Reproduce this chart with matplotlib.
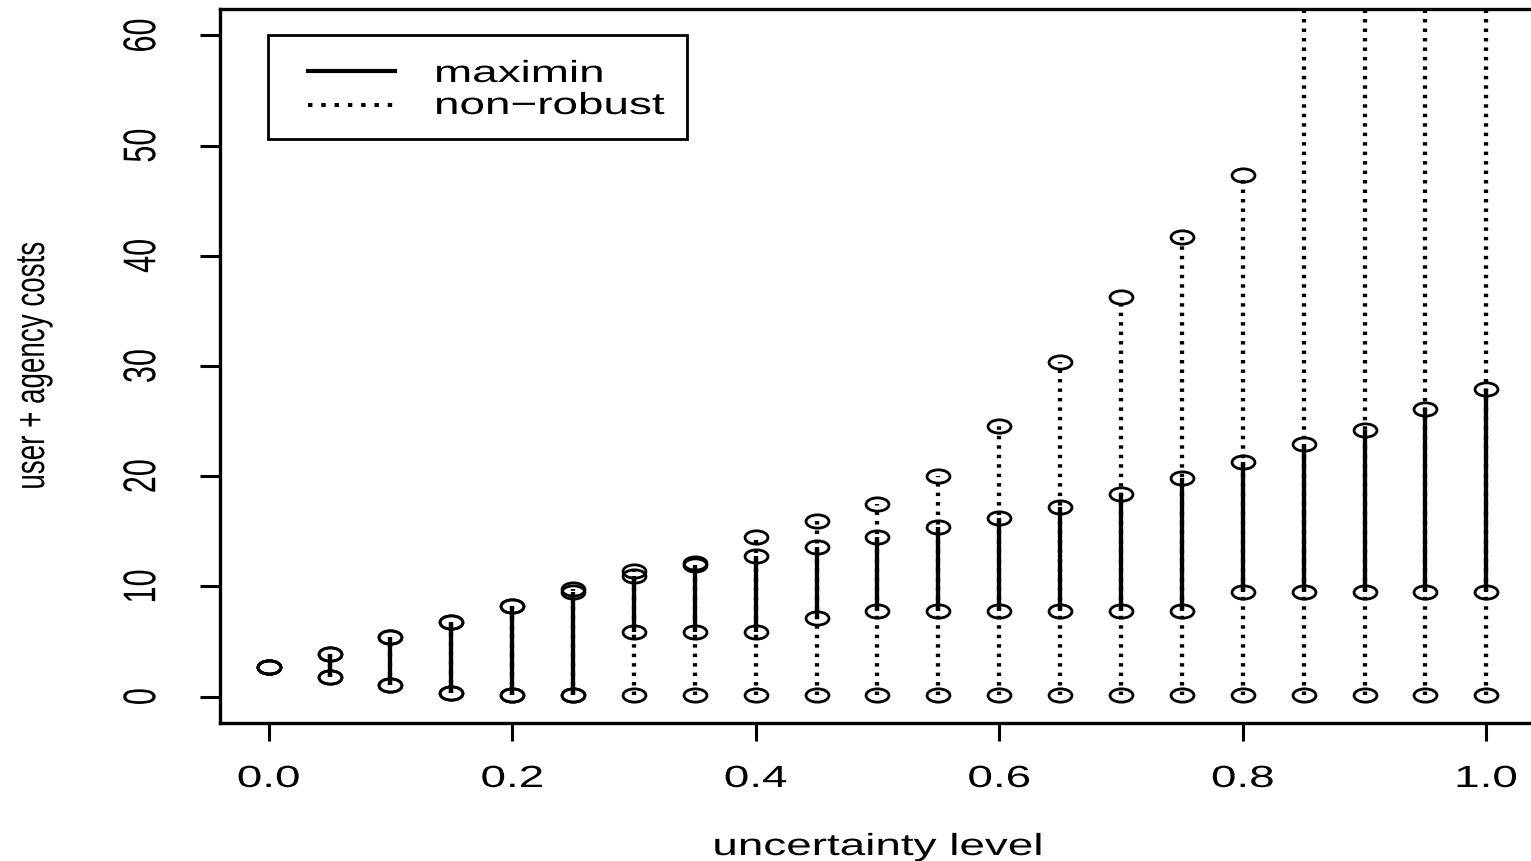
import matplotlib
matplotlib.use("Agg")
import matplotlib.pyplot as plt
from matplotlib.path import Path
from matplotlib.patches import Rectangle
from matplotlib.lines import Line2D
from matplotlib.patheffects import AbstractPathEffect
from matplotlib.transforms import Affine2D

# cost ranges per uncertainty level
uncertainty = [0.0, 0.05, 0.10, 0.15, 0.20, 0.25, 0.30, 0.35, 0.40, 0.45, 0.50,
               0.55, 0.60, 0.65, 0.70, 0.75, 0.80, 0.85, 0.90, 0.95, 1.00]
maximin_low = [2.64, 1.73, 1.03, 0.36, 0.15, 0.15, 5.85, 5.82, 5.82, 7.12, 7.78,
               7.78, 7.75, 7.77, 7.77, 7.75, 9.49, 9.49, 9.49, 9.49, 9.49]
maximin_high = [2.64, 3.85, 5.36, 6.78, 8.24, 9.48, 10.96, 11.95, 12.73, 13.6, 14.45,
                15.36, 16.18, 17.2, 18.35, 19.85, 21.33, 22.9, 24.2, 26.1, 27.87]
nonrobust_low = [2.64, 1.73, 1.03, 0.36, 0.15, 0.15, 0.17, 0.17, 0.17, 0.17, 0.17,
                 0.17, 0.17, 0.17, 0.17, 0.17, 0.17, 0.17, 0.17, 0.17, 0.17]
nonrobust_high = [2.64, 3.85, 5.36, 6.78, 8.24, 9.79, 11.42, 12.1, 14.45, 15.96, 17.48,
                  20.05, 24.6, 30.4, 36.26, 41.7, 47.3, 66.0, 74.0, 82.0, 90.0]

x_ticks = [0.0, 0.2, 0.4, 0.6, 0.8, 1.0]
x_tick_labels = ["0.0", "0.2", "0.4", "0.6", "0.8", "1.0"]
y_ticks = [0, 10, 20, 30, 40, 50, 60]
y_tick_labels = ["0", "10", "20", "30", "40", "50", "60"]
series_names = ["maximin", "non\u2212robust"]

W, H = 1531, 862
AX_L, AX_R, AX_T, AX_B = 220, 1535, 10, 724


class HStretch(AbstractPathEffect):
    """Widen glyphs horizontally around their centre (or left edge)."""

    def __init__(self, factor=1.5, anchor="center"):
        super().__init__()
        self.factor = factor
        self.anchor = anchor

    def draw_path(self, renderer, gc, tpath, affine, rgbFace=None):
        ext = tpath.get_extents(affine)
        x0 = ext.x0 if self.anchor == "left" else 0.5 * (ext.x0 + ext.x1)
        aff = (affine + Affine2D().translate(-x0, 0).scale(self.factor, 1)
               .translate(x0, 0)).frozen()
        renderer.draw_path(gc, tpath, aff, rgbFace)


def axpos(px, py):
    # pixel position -> axes fraction
    return (px - AX_L) / (AX_R - AX_L), (AX_B - py) / (AX_B - AX_T)


plt.rcParams["font.family"] = ["Liberation Sans", "DejaVu Sans"]
plt.rcParams["font.size"] = 22

fig = plt.figure(figsize=(W / 100, H / 100), dpi=100)
ax = fig.add_axes([AX_L / W, 1 - AX_B / H, (AX_R - AX_L) / W, (AX_B - AX_T) / H])
ax.set_xlim(-0.04, 1.04)
ax.set_ylim(-2.4, 62.4)

dotted = (0, (0.8, 1.4))
ax.vlines(uncertainty, nonrobust_low, nonrobust_high, colors="black",
          linestyles=[dotted], linewidth=3.1)
ax.vlines(uncertainty, maximin_low, maximin_high, colors="black", linewidth=3.1)

circle = Path.unit_circle()
ring = Path(circle.vertices * [1.0, 0.58], circle.codes)
for vals in (nonrobust_low, nonrobust_high, maximin_low, maximin_high):
    ax.plot(uncertainty, vals, linestyle="none", marker=ring, markersize=16.5,
            markerfacecolor="none", markeredgecolor="black", markeredgewidth=2.0)

for side in ("top", "left", "bottom", "right"):
    ax.spines[side].set_linewidth(2.4)

ax.set_xticks(x_ticks)
ax.set_xticklabels(x_tick_labels)
ax.set_yticks(y_ticks)
ax.set_yticklabels(y_tick_labels, rotation=90, va="center")
ax.tick_params(axis="x", length=13, width=2.2, pad=16.5)
ax.tick_params(axis="y", length=14.4, width=2.2, pad=31)

ax.set_xlabel("uncertainty level", fontsize=22)
ax.xaxis.set_label_coords(0.5, axpos(0, 833)[1])
ax.set_ylabel("user + agency costs", fontsize=20)
ax.yaxis.set_label_coords(axpos(47, 0)[0], 0.5)

# legend box drawn by hand
lx0, ly0 = axpos(268, 140)
lx1, ly1 = axpos(687, 36)
ax.add_patch(Rectangle((lx0, ly0), lx1 - lx0, ly1 - ly0, transform=ax.transAxes,
                       facecolor="white", edgecolor="black", linewidth=2.0, zorder=5))
sx0, sy_solid = axpos(308, 72)
sx1, sy_dot = axpos(395, 106)
ax.add_line(Line2D([sx0, sx1], [sy_solid, sy_solid], transform=ax.transAxes,
                   color="black", linewidth=3.0, zorder=6))
ax.add_line(Line2D([sx0, sx1], [sy_dot, sy_dot], transform=ax.transAxes,
                   color="black", linewidth=2.9, linestyle=(0, (1.1, 2.2)), zorder=6))
tx, tb1 = axpos(435, 83)
_, tb2 = axpos(435, 115)
legend_texts = [
    ax.text(tx, tb1, series_names[0], transform=ax.transAxes, ha="left",
            va="baseline", fontsize=22, zorder=6),
    ax.text(tx, tb2, series_names[1], transform=ax.transAxes, ha="left",
            va="baseline", fontsize=22, zorder=6),
]

fig.canvas.draw()
for lbl in ax.get_xticklabels() + ax.get_yticklabels():
    lbl.set_path_effects([HStretch(1.5)])
ax.xaxis.label.set_path_effects([HStretch(1.5)])
ax.yaxis.label.set_path_effects([HStretch(1.5)])
for t in legend_texts:
    t.set_path_effects([HStretch(1.5, anchor="left")])

fig.savefig("out.png", dpi=100, facecolor="white")
